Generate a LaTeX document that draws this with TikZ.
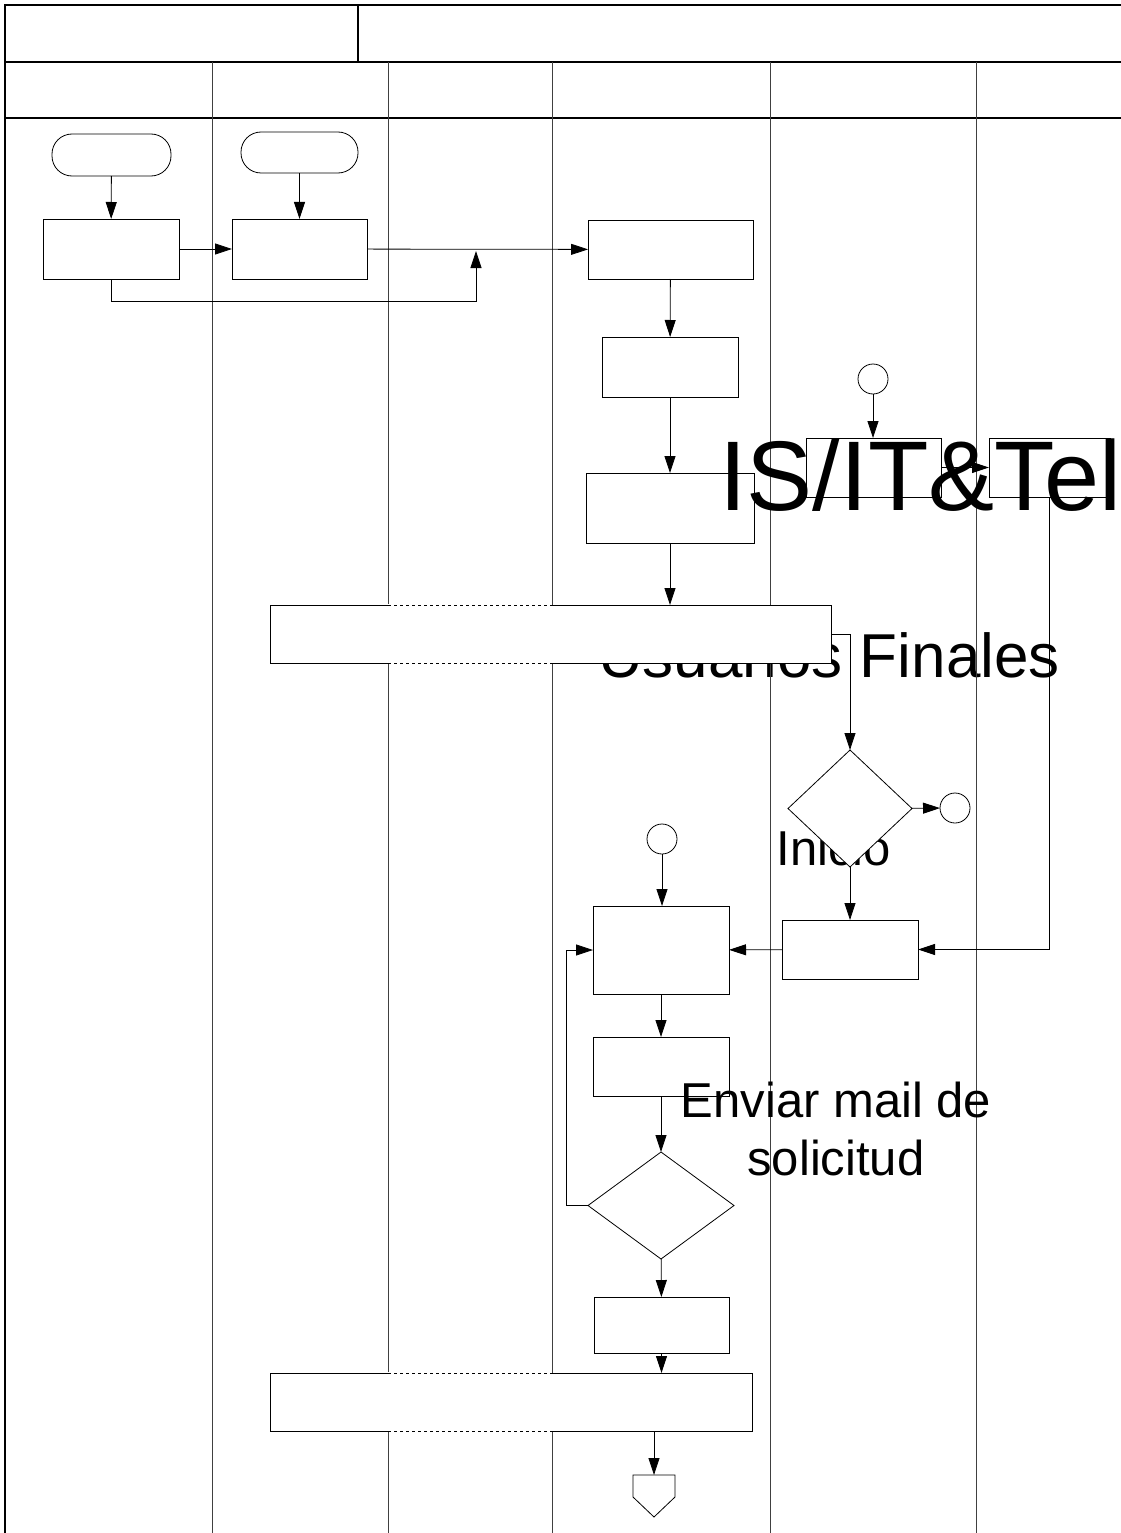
\documentclass[tikz,border=0pt]{standalone}
\usepackage{fontspec}
\setmainfont{Liberation Sans}
\usetikzlibrary{arrows.meta,shapes.geometric}

\begin{document}
\begin{tikzpicture}[x=1pt,y=-1pt,line width=0.8pt,
        proc/.style={draw,fill=white,inner sep=0pt,outer sep=0pt},
        term/.style={proc,rounded corners=20pt},
        conn/.style={proc,circle,minimum size=30pt},
        dec/.style={proc,diamond},
        lane/.style={draw=black!75},
        gapedge/.style={preaction={draw=white,solid,line width=1.6pt},dashed},
        arr/.style={-{Triangle[length=17pt,width=11pt]}}]
        \useasboundingbox (0,0) rectangle (1120,1533);

        \node[inner sep=0pt,anchor=base,font=\fontsize{62}{74}\selectfont] (usr) at (829,677) {Usuarios Finales};
        \node[inner sep=0pt,anchor=base west,font=\fontsize{49}{58}\selectfont] (ini) at (776,865) {Inicio};

        \draw[line width=1.2pt] (1130,5) -- (5,5) -- (5,1540);
        \draw[line width=1.2pt] (358,5) -- (358,62);
        \draw[line width=1.2pt] (5,62) -- (1130,62);
        \draw[line width=1.2pt] (5,118) -- (1130,118);
        \foreach \lx in {212,388,552,770,976}
            \draw[lane] (\lx,62) -- (\lx,1540);

        \node[term,minimum width=119pt,minimum height=42pt] (t1) at (111.5,155) {};
        \node[term,minimum width=117pt,minimum height=41pt] (t2) at (299.5,152.5) {};
        \node[proc,minimum width=136pt,minimum height=60pt] (p1) at (111,249) {};
        \node[proc,minimum width=135pt,minimum height=60pt] (p2) at (299.5,249) {};
        \node[proc,minimum width=165pt,minimum height=59pt] (p3) at (670.5,249.5) {};
        \node[proc,minimum width=136pt,minimum height=60pt] (p4) at (670,367) {};
        \node[proc,minimum width=168pt,minimum height=70pt] (p5) at (670,508) {};
        \node[proc,minimum width=561pt,minimum height=58pt] (w1) at (550.5,634) {};
        \node[conn] (c1) at (873,379) {};
        \node[proc,minimum width=135pt,minimum height=59pt] (pa) at (873.5,467.5) {};
        \node[proc,minimum width=121pt,minimum height=59pt] (pb) at (1049.5,467.5) {};
        \node[dec,minimum width=124pt,minimum height=117pt] (d1) at (850,808.5) {};
        \node[conn] (c2) at (955,808) {};
        \node[proc,minimum width=136pt,minimum height=59pt] (pr) at (850,949.5) {};
        \node[conn] (c3) at (662,839) {};
        \node[proc,minimum width=136pt,minimum height=88pt] (pm) at (661,950) {};
        \node[proc,minimum width=136pt,minimum height=59pt] (pn) at (661,1066.5) {};
        \node[dec,minimum width=146pt,minimum height=107pt] (d2) at (661,1205.5) {};
        \node[proc,minimum width=135pt,minimum height=56pt] (p6) at (661.5,1325) {};
        \node[proc,minimum width=482pt,minimum height=58pt] (w2) at (511,1402) {};
        \draw[fill=white] (633,1475) -- (675,1475) -- (675,1497) -- (654,1517) -- (633,1497) -- cycle;
        \coordinate (off) at (654,1475);
        \coordinate (join) at (476,251);

        \draw[gapedge] (388,605) -- (552,605);
        \draw[gapedge] (388,663) -- (552,663);
        \draw[gapedge] (388,1373) -- (552,1373);
        \draw[gapedge] (388,1431) -- (552,1431);

        \draw[arr] (t1) -- (p1);
        \draw[arr] (t2) -- (p2);
        \draw[arr] (p1) -- (p2);
        \draw[arr] (p2) -- (p3);
        \draw[arr] (p1.south) |- (476,301) -- (join);
        \draw[arr] (p3) -- (p4);
        \draw[arr] (p4) -- (p5);
        \draw[arr] (p5.south) -- (p5.south |- w1.north);
        \draw[arr] (c1) -- (c1 |- pa.north);
        \draw[arr] (pa) -- (pb);
        \draw[arr] (w1.east) -| (d1.north);
        \draw[arr] (d1) -- (c2);
        \draw[arr] (d1) -- (pr);
        \draw[arr] (pb.south) |- (pr.east);
        \draw[arr] (pr) -- (pm);
        \draw[arr] (c3) -- (c3 |- pm.north);
        \draw[arr] (pm) -- (pn);
        \draw[arr] (pn) -- (d2);
        \draw[arr] (d2.west) -- (566,1205.5) |- (pm.west);
        \draw[arr] (d2) -- (p6);
        \draw[arr] (p6.south) -- (p6.south |- w2.north);
        \draw[arr] (w2.south -| off) -- (off);

        \node[inner sep=0pt,anchor=base,align=center,font=\fontsize{49}{58}\selectfont] (mail) at (836,1175) {Enviar mail de\\solicitud};
        \node[inner sep=0pt,anchor=base west,font=\fontsize{99}{119}\selectfont] (ist) at (719,510) {IS/IT\&Tel};
    \end{tikzpicture}
\end{document}
